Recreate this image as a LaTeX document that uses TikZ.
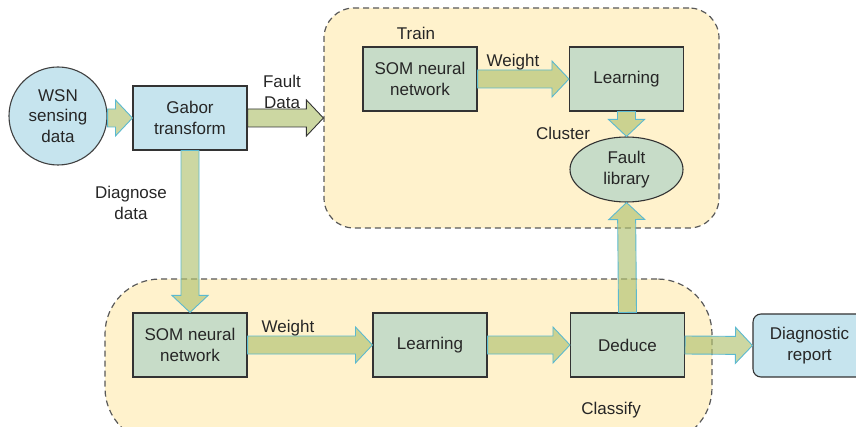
\documentclass[tikz,border=0pt]{standalone}
\usepackage{fontspec}
\setmainfont{Liberation Sans}
\usetikzlibrary{calc}
\usetikzlibrary{shapes.geometric}
\definecolor{region-yellow}{HTML}{FFF2CC}
\definecolor{box-green}{HTML}{C7DCC8}
\definecolor{box-blue}{HTML}{C6E4EE}
\definecolor{arrow-olive}{HTML}{B0C270}
\definecolor{arrow-edge}{HTML}{5BB9D0}
\tikzstyle{region}=[draw=black!65,dash pattern=on 6pt off 4pt,fill=region-yellow,line width=1.2pt]
\tikzstyle{procbox}=[draw=black!80,fill=box-green,line width=1.1pt,minimum width=114pt,minimum height=64pt,align=center]
\tikzstyle{fatarrow}=[draw=arrow-edge,fill=arrow-olive,fill opacity=0.65,line width=0.9pt,line join=miter]
\def\shaftw{9pt}  % half width of the shaft
\def\headw{18pt}  % half width of the head
\def\headlen{17pt}
\newcommand{\fatarrow}[3][]{% [options] {from} {to}
  \path (#2) coordinate (fa-a) (#3) coordinate (fa-b);
  \path ($(fa-b)!\headlen!(fa-a)$) coordinate (fa-h);
  \draw[fatarrow,#1] ($(fa-a)!\shaftw!90:(fa-b)$) -- ($(fa-h)!\shaftw!-90:(fa-a)$)
    -- ($(fa-h)!\headw!-90:(fa-a)$) -- (fa-b) -- ($(fa-h)!\headw!90:(fa-a)$)
    -- ($(fa-h)!\shaftw!90:(fa-a)$) -- ($(fa-a)!\shaftw!-90:(fa-b)$) -- cycle;
}
\begin{document}
\begin{tikzpicture}[x=1pt,y=-1pt,every node/.style={font=\fontsize{17}{20.5}\selectfont,text=black!85}]
  \useasboundingbox (0,0) rectangle (856,427);
  % the two stages
  \node[region,rounded corners=30pt,minimum width=395pt,minimum height=220pt] (train) at (521.5,118) {};
  \node[region,rounded corners=55pt,minimum width=607pt,minimum height=164pt] (classify) at (408.5,361) {};
  % input
  \node[circle,draw=black!75,fill=box-blue,line width=1.1pt,minimum size=98pt,inner sep=0pt,align=center] (wsn) at (58,116) {WSN\\sensing\\data};
  \node[procbox,fill=box-blue] (gabor) at (190,118) {Gabor\\transform};
  % train
  \node[procbox] (tsom) at (420,79) {SOM neural\\network};
  \node[procbox] (tlearn) at (626.5,79) {Learning};
  \node[procbox,ellipse,minimum width=113pt,minimum height=65pt] (lib) at (626.5,169.5) {Fault\\library};
  % classify
  \node[procbox] (csom) at (190,345) {SOM neural\\network};
  \node[procbox] (clearn) at (430,345) {Learning};
  \node[procbox] (deduce) at (627.5,345) {Deduce};
  \node[procbox,fill=box-blue,rounded corners=8pt,minimum width=113pt,minimum height=63pt] (report) at (809.5,345.5) {Diagnostic\\report};
  % arrows
  \fatarrow{wsn.east |- gabor.west}{gabor.west}
  \fatarrow[draw=black!80]{gabor.east}{train.west |- gabor.east}
  \fatarrow{gabor.south}{csom.north}
  \fatarrow{tsom.east}{tlearn.west}
  \fatarrow{tlearn.south}{lib.north}
  \fatarrow{deduce.north}{lib.south}
  \fatarrow{csom.east}{clearn.west}
  \fatarrow{clearn.east}{deduce.west}
  \fatarrow{deduce.east}{report.west}
  % labels
  \node (trainlbl) at (416,33) {Train};
  \node (classifylbl) at (611,410) {Classify};
  \node[align=center] (faultlbl) at (282,92) {Fault\\Data};
  \node[align=center] (diaglbl) at (131,203) {Diagnose\\data};
  \node (tweight) at (513,62) {Weight};
  \node (cweight) at (288,328) {Weight};
  \node (clusterlbl) at (563,133) {Cluster};
\end{tikzpicture}
\end{document}
